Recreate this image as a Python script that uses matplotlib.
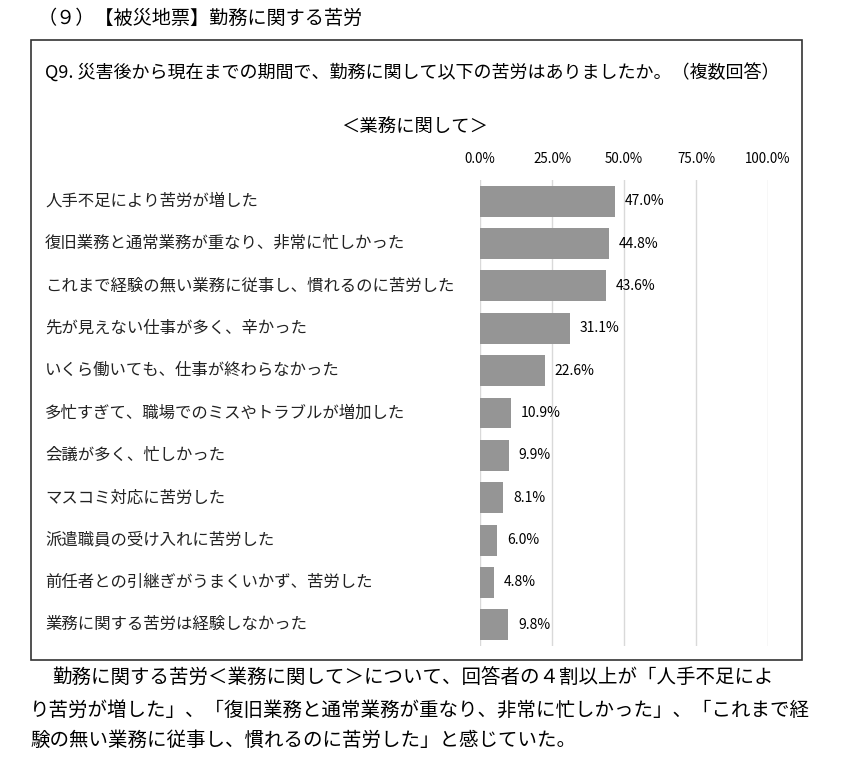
import matplotlib.pyplot as plt
from matplotlib.patches import Rectangle
from matplotlib.transforms import blended_transform_factory

plt.rcParams['font.family'] = ['Noto Sans CJK JP', 'DejaVu Sans']

categories = [
    "人手不足により苦労が増した",
    "復旧業務と通常業務が重なり、非常に忙しかった",
    "これまで経験の無い業務に従事し、慣れるのに苦労した",
    "先が見えない仕事が多く、辛かった",
    "いくら働いても、仕事が終わらなかった",
    "多忙すぎて、職場でのミスやトラブルが増加した",
    "会議が多く、忙しかった",
    "マスコミ対応に苦労した",
    "派遣職員の受け入れに苦労した",
    "前任者との引継ぎがうまくいかず、苦労した",
    "業務に関する苦労は経験しなかった",
]
values = [47.0, 44.8, 43.6, 31.1, 22.6, 10.9, 9.9, 8.1, 6.0, 4.8, 9.8]
ticks = [0, 25, 50, 75, 100]
tick_labels = ["0.0%", "25.0%", "50.0%", "75.0%", "100.0%"]

W, H = 856, 757
fig = plt.figure(figsize=(W / 100, H / 100), dpi=100)

# frame around the chart block
fig.patches.append(Rectangle((31 / W, 1 - 660 / H), 771 / W, 620 / H,
                             transform=fig.transFigure, fill=False,
                             edgecolor='#333333', linewidth=1.2))

fig.text(38 / W, 1 - 18 / H, "（９）【被災地票】勤務に関する苦労",
         fontsize=13.8, va='center', ha='left')
fig.text(45 / W, 1 - 73 / H,
         "Q9. 災害後から現在までの期間で、勤務に関して以下の苦労はありましたか。（複数回答）",
         fontsize=13, va='center', ha='left')
fig.text(415 / W, 1 - 128 / H, "＜業務に関して＞", fontsize=13.2,
         va='center', ha='center')

ax = fig.add_axes([480 / W, 1 - 646 / H, 288 / W, 466 / H])
y = list(range(len(categories)))
bars = ax.barh(y, values, height=0.73, color='#959595')
ax.set_xlim(0, 100)
ax.set_ylim(len(categories) - 0.5, -0.5)
ax.set_xticks(ticks)
ax.set_xticklabels(tick_labels)
ax.xaxis.tick_top()
ax.tick_params(axis='x', length=0, pad=10, labelsize=9.6)
ax.set_yticks([])
ax.grid(axis='x', color='#d9d9d9', linewidth=1)
ax.set_axisbelow(True)
for s in ax.spines.values():
    s.set_visible(False)

for bar, v in zip(bars, values):
    ax.annotate(f"{v:.1f}%", (bar.get_width(), bar.get_y() + bar.get_height() / 2),
                xytext=(7, 0), textcoords='offset points',
                va='center', ha='left', fontsize=10)

trans = blended_transform_factory(fig.transFigure, ax.transData)
for i, c in enumerate(categories):
    ax.text(45 / W, i, c, transform=trans, va='center', ha='left',
            fontsize=11.8, color='#222222')

para = [
    (52, 678, "勤務に関する苦労＜業務に関して＞について、回答者の４割以上が「人手不足によ"),
    (30, 710, "り苦労が増した」、「復旧業務と通常業務が重なり、非常に忙しかった」、「これまで経"),
    (30, 740, "験の無い業務に従事し、慣れるのに苦労した」と感じていた。"),
]
for px, py, line in para:
    fig.text(px / W, 1 - py / H, line, fontsize=14, va='center', ha='left')

fig.savefig("out.png", dpi=100)
